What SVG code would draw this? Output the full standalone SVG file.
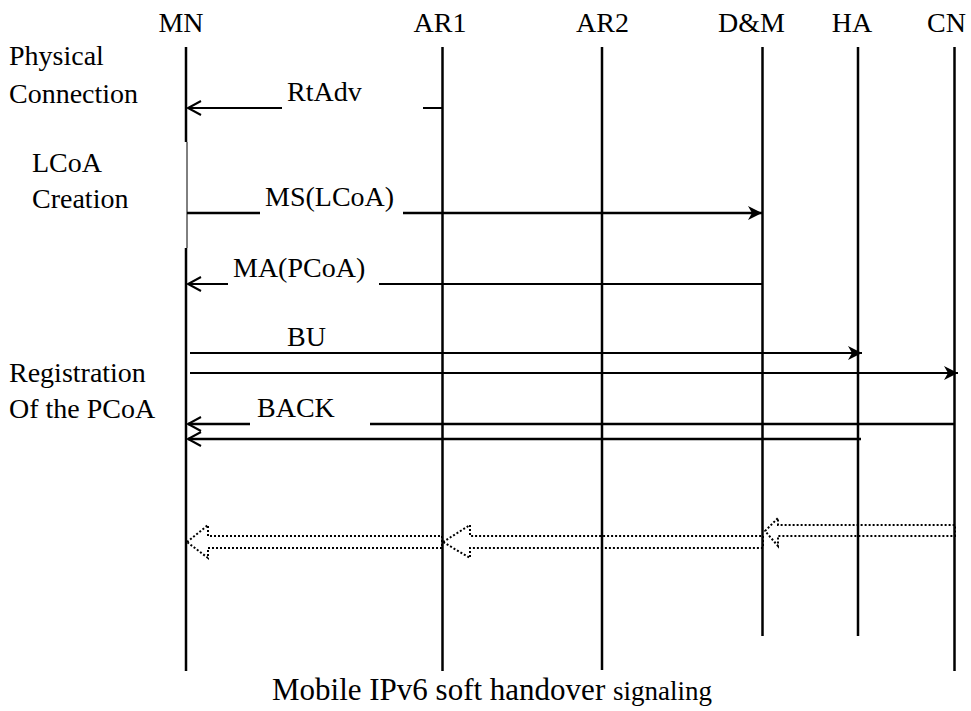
<svg xmlns="http://www.w3.org/2000/svg" width="971" height="711" viewBox="0 0 971 711">
<defs>
<style>
text{font-family:"Liberation Serif","Times New Roman",serif;fill:#000}
.hd{font-size:28px;text-anchor:middle}
.lb{font-size:28px}
.ml{font-size:28px}
.life{stroke:#000;stroke-width:2.5;fill:none}
.msg{stroke:#000;stroke-width:2.5;fill:none}
.open{stroke:#000;stroke-width:2;fill:none}
.dot{stroke:#000;stroke-width:2;fill:none;stroke-dasharray:2 2}
</style>
<marker id="fill" markerWidth="16" markerHeight="16" refX="14" refY="8" orient="auto" markerUnits="userSpaceOnUse">
<path d="M0,1 L14,8 L0,15 L4,8 Z" fill="#000"/>
</marker>
</defs>
<rect width="971" height="711" fill="#fff"/>

<g id="MN">
<text class="hd" x="181" y="32">MN</text>
<line class="life" x1="186" y1="47" x2="186" y2="142"/>
<line stroke="#000" stroke-width="1" x1="187" y1="142" x2="187" y2="248"/>
<line class="life" x1="186" y1="248" x2="186" y2="671"/>
</g>
<g id="AR1">
<text class="hd" x="440" y="32">AR1</text>
<line class="life" x1="442.5" y1="47" x2="442.5" y2="671"/>
</g>
<g id="AR2">
<text class="hd" x="602.5" y="32">AR2</text>
<line class="life" x1="602" y1="47" x2="602" y2="670"/>
</g>
<g id="DM">
<text class="hd" x="751.5" y="32">D&amp;M</text>
<line class="life" x1="762.5" y1="47" x2="762.5" y2="636"/>
</g>
<g id="HA">
<text class="hd" x="852" y="32">HA</text>
<line class="life" x1="858" y1="47" x2="858" y2="636"/>
</g>
<g id="CN">
<text class="hd" x="946.5" y="32">CN</text>
<line class="life" x1="954.5" y1="47" x2="954.5" y2="671"/>
</g>

<g id="phase-labels">
<text class="lb" x="9" y="65">Physical</text>
<text class="lb" x="9" y="103">Connection</text>
<text class="lb" x="32" y="172">LCoA</text>
<text class="lb" x="32" y="208">Creation</text>
<text class="lb" x="9" y="382">Registration</text>
<text class="lb" x="9" y="418">Of the PCoA</text>
</g>

<g id="connectors">
<!-- RtAdv -->
<line class="open" x1="442" y1="108" x2="423" y2="108"/>
<line class="open" x1="282" y1="108" x2="188" y2="108"/>
<polyline class="open" points="201,101 188,108 201,115"/>
<text class="ml" x="287" y="101">RtAdv</text>
<!-- MS(LCoA) -->
<line class="msg" x1="187" y1="213" x2="260" y2="213"/>
<line class="msg" x1="403" y1="213" x2="762" y2="213" marker-end="url(#fill)"/>
<text class="ml" x="265" y="206">MS(LCoA)</text>
<!-- MA(PCoA) -->
<line class="open" x1="762" y1="284" x2="379" y2="284"/>
<line class="open" x1="228" y1="284" x2="188" y2="284"/>
<polyline class="open" points="201,277 188,284 201,291"/>
<text class="ml" x="233" y="277">MA(PCoA)</text>
<!-- BU -->
<line class="open" x1="190" y1="353" x2="862" y2="353" marker-end="url(#fill)"/>
<text class="ml" x="287" y="346">BU</text>
<line class="open" x1="190" y1="373" x2="958" y2="373" marker-end="url(#fill)"/>
<!-- BACK -->
<line class="msg" x1="954" y1="424" x2="370" y2="424"/>
<line class="msg" x1="250" y1="424" x2="188" y2="424"/>
<polyline class="open" points="201,417 188,424 201,431"/>
<text class="ml" x="257" y="417">BACK</text>
<line class="msg" x1="861" y1="439" x2="188" y2="439"/>
<polyline class="open" points="201,432 188,439 201,446"/>
<!-- dotted data flow arrows -->
<polygon class="dot" points="187,542 208,525 208,536 442,536 442,548 208,548 208,558"/>
<polygon class="dot" points="443,542 470,525 470,536 763,536 763,548 470,548 470,558"/>
<polygon class="dot" points="765,531 778,518 778,525 955,525 955,536 778,536 778,546"/>
</g>

<g id="caption">
<text x="272" y="700" style="font-size:31px">Mobile IPv6 soft handover <tspan style="font-size:27px">signaling</tspan></text>
</g>
</svg>
